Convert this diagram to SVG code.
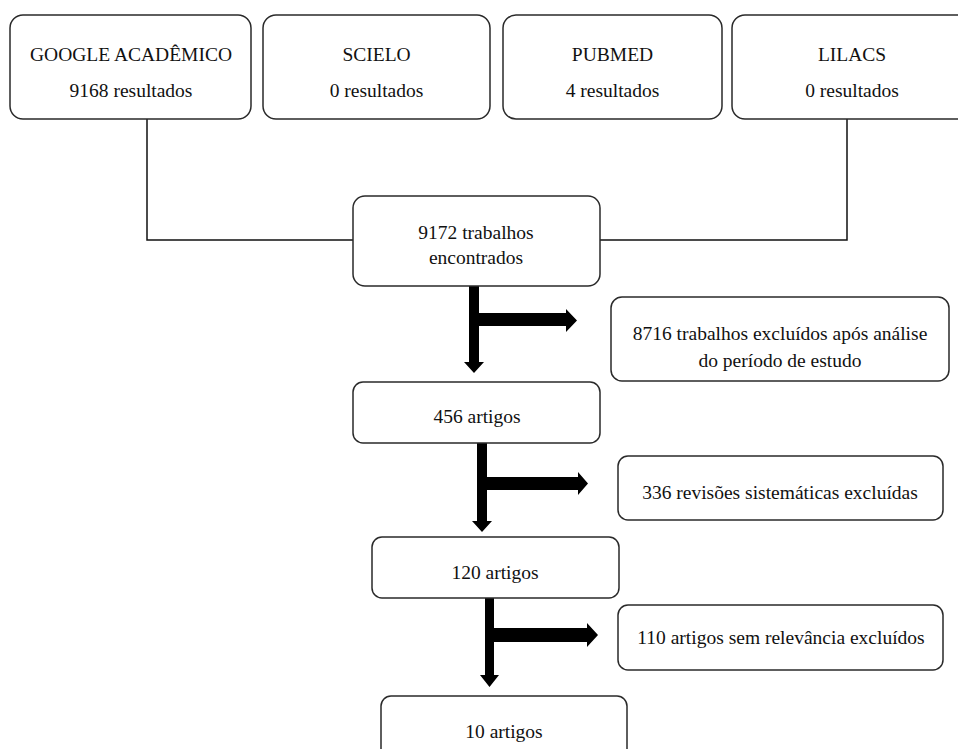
<svg xmlns="http://www.w3.org/2000/svg" width="958" height="749" viewBox="0 0 958 749">
<style>
.box{fill:#fff;stroke:#2a2a2a;stroke-width:1.5}
.t{font-family:'Liberation Serif','Times New Roman',serif;font-size:19.5px;fill:#111;text-anchor:middle}
.ln{fill:none;stroke:#111;stroke-width:1.5}
.ar{fill:#000;stroke:none}
</style>
<rect width="958" height="749" fill="#fff"/>
<g id="connectors">
<path class="ln" d="M147,119 V240 H353"/>
<path class="ln" d="M847,119 V240 H600"/>
<path class="ar" d="M469,286 H479 V362 H484 L474,373 L464,362 H469 Z"/>
<path class="ar" d="M469,313 H566 V309 L577,320.5 L566,332 V326 H469 Z"/>
<path class="ar" d="M477,443 H487 V521 H492 L482,532 L472,521 H477 Z"/>
<path class="ar" d="M477,477 H578 V472 L588,483.5 L578,495 V490 H477 Z"/>
<path class="ar" d="M485,598 H494 V675 H499 L489.5,687 L480,675 H485 Z"/>
<path class="ar" d="M485,628 H587 V623 L598,635 L587,647 V642 H485 Z"/>
</g>
<g id="google">
<rect class="box" x="10" y="15" width="241" height="104" rx="13"/>
<text class="t" x="131" y="61">GOOGLE ACADÊMICO</text>
<text class="t" x="131" y="97">9168 resultados</text>
</g>
<g id="scielo">
<rect class="box" x="263" y="15" width="227" height="104" rx="13"/>
<text class="t" x="376.5" y="61">SCIELO</text>
<text class="t" x="376.5" y="97">0 resultados</text>
</g>
<g id="pubmed">
<rect class="box" x="503" y="15" width="219" height="104" rx="13"/>
<text class="t" x="612.5" y="61">PUBMED</text>
<text class="t" x="612.5" y="97">4 resultados</text>
</g>
<g id="lilacs">
<rect class="box" x="732" y="15" width="240" height="104" rx="13"/>
<text class="t" x="852" y="61">LILACS</text>
<text class="t" x="852" y="97">0 resultados</text>
</g>
<g id="found">
<rect class="box" x="353" y="196" width="247" height="90" rx="12"/>
<text class="t" x="476" y="239">9172 trabalhos</text>
<text class="t" x="476" y="264">encontrados</text>
</g>
<g id="excl1">
<rect class="box" x="611" y="297" width="338" height="84" rx="11"/>
<text class="t" x="780" y="340">8716 trabalhos excluídos após análise</text>
<text class="t" x="780" y="367">do período de estudo</text>
</g>
<g id="a456">
<rect class="box" x="353" y="382" width="247" height="61" rx="10"/>
<text class="t" x="477" y="423">456 artigos</text>
</g>
<g id="excl2">
<rect class="box" x="618" y="456" width="325" height="64" rx="10"/>
<text class="t" x="780" y="499">336 revisões sistemáticas excluídas</text>
</g>
<g id="a120">
<rect class="box" x="372" y="537" width="247" height="61" rx="10"/>
<text class="t" x="495" y="579">120 artigos</text>
</g>
<g id="excl3">
<rect class="box" x="618" y="605" width="325" height="65" rx="10"/>
<text class="t" x="781" y="644">110 artigos sem relevância excluídos</text>
</g>
<g id="a10">
<rect class="box" x="381" y="696" width="246" height="80" rx="10"/>
<text class="t" x="504" y="738">10 artigos</text>
</g>
</svg>
